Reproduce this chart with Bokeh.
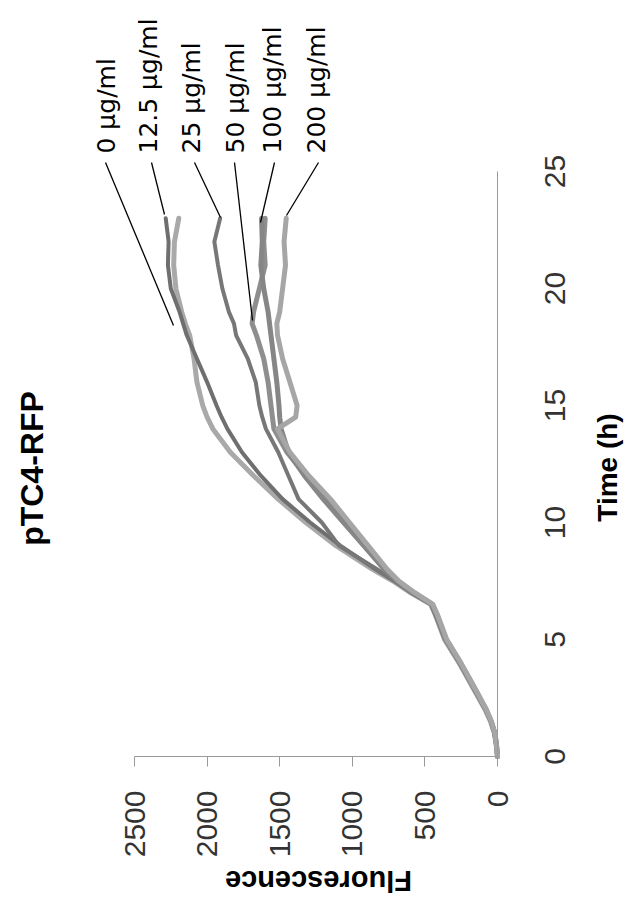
from math import pi
from bokeh.plotting import figure
from bokeh.models import Range1d, FixedTicker, Label, Arrow
from bokeh.core.properties import value
from bokeh.embed import file_html
from bokeh.resources import INLINE

# ---------------- data ----------------
time_h = [0, 0.5, 1, 1.5, 2, 3, 4, 5, 6, 6.5, 7, 7.5, 8, 9, 10, 11, 12, 13, 14,
          14.5, 15, 16, 17, 18, 18.5, 19, 20, 21, 22, 23]

conc_labels = ["0 μg/ml", "12.5 μg/ml", "25 μg/ml", "50 μg/ml", "100 μg/ml", "200 μg/ml"]

fl_0 = [0, 8, 22, 48, 85, 175, 265, 365, 425, 460, 600, 720, 860, 1110, 1320, 1510,
        1680, 1840, 1960, 2000, 2030, 2070, 2090, 2120, 2150, 2175, 2215, 2230, 2225, 2195]
fl_12_5 = [0, 7, 20, 44, 80, 168, 258, 358, 418, 452, 590, 710, 840, 1080, 1290, 1480,
           1630, 1760, 1860, 1900, 1935, 2000, 2070, 2140, 2165, 2190, 2250, 2270, 2265, 2285]
fl_25 = [0, 8, 20, 45, 82, 172, 262, 362, 425, 458, 595, 705, 830, 1090, 1210, 1370,
         1440, 1510, 1595, 1620, 1640, 1665, 1720, 1800, 1815, 1850, 1895, 1925, 1950, 1910]
fl_50 = [0, 8, 19, 44, 80, 168, 258, 355, 415, 450, 580, 690, 770, 900, 1040, 1180,
         1320, 1450, 1540, 1550, 1560, 1580, 1610, 1660, 1690, 1680, 1640, 1600, 1610, 1600]
fl_100 = [0, 7, 19, 43, 78, 165, 255, 352, 412, 448, 575, 690, 780, 920, 1060, 1200,
          1330, 1440, 1490, 1500, 1505, 1520, 1540, 1560, 1570, 1580, 1610, 1630, 1620, 1625]
fl_200 = [0, 7, 18, 42, 76, 163, 252, 350, 410, 445, 570, 680, 760, 890, 1020, 1150,
          1300, 1430, 1515, 1390, 1380, 1430, 1480, 1515, 1520, 1500, 1480, 1460, 1470, 1455]

series = [fl_0, fl_12_5, fl_25, fl_50, fl_100, fl_200]

fluor_ticks = [0, 500, 1000, 1500, 2000, 2500]
time_ticks = [0, 5, 10, 15, 20, 25]

# ---------------- layout (pixels) and styles ----------------
W, H = 625, 897
FX_MAX_PX, FX_ZERO_PX = 134, 497      # pixel x of fluorescence 2500 and 0
T_ZERO_PX, T_MAX_PX = 756, 171        # pixel y of time 0 and 25
F_MAX, T_MAX = 2500, 25

fx_scale = (FX_ZERO_PX - FX_MAX_PX) / F_MAX     # px per fluorescence unit
ty_scale = (T_ZERO_PX - T_MAX_PX) / T_MAX       # px per hour


def fx(px):
    return (FX_ZERO_PX - px) / fx_scale


def ty(py):
    return (T_ZERO_PX - py) / ty_scale


line_colors = ["#a9a9a9", "#6f6f6f", "#777777", "#8e8e8e", "#868686", "#a6a6a6"]
line_widths = [5, 4, 4, 5, 5, 5]

label_px = [106, 148, 191, 235, 272, 316]
label_py = 153
leader_start_px = [105, 151, 194, 234, 274, 318]
leader_start_py = 162
leader_end_px = [173, 164, 220, 252, 260, 286]
leader_end_py = [325, 214, 217, 320, 222, 215]

p = figure(width=W, height=H,
           x_range=Range1d(fx(0), fx(W)), y_range=Range1d(ty(H), ty(0)),
           y_axis_location="right", x_axis_location="below",
           output_backend="svg", toolbar_location=None,
           min_border_left=0, min_border_right=0, min_border_top=0, min_border_bottom=0)
p.title_location = None
p.outline_line_color = None
p.grid.visible = False
p.background_fill_color = "white"
p.border_fill_color = "white"

for ys, c, w in zip(series, line_colors, line_widths):
    p.line(ys, time_h, line_color=c, line_width=w, line_join="round", line_cap="round")

# Fluorescence axis (bottom of the rotated chart)
xa = p.xaxis[0]
xa.fixed_location = 0
xa.bounds = (0, F_MAX)
xa.ticker = FixedTicker(ticks=fluor_ticks)
xa.major_label_orientation = pi / 2
xa.axis_line_color = "#9a9a9a"
xa.major_tick_line_color = "#9a9a9a"
xa.major_tick_out = 10
xa.major_tick_in = 0
xa.minor_tick_line_color = None
xa.major_label_standoff = 24
xa.major_label_text_font = "Liberation Sans"
xa.major_label_text_font_size = "30px"
xa.major_label_text_color = "#333333"

# Time axis (right side of the rotated chart); its labels are drawn centred below
ya = p.yaxis[0]
ya.fixed_location = 0
ya.bounds = (0, T_MAX)
ya.ticker = FixedTicker(ticks=time_ticks)
ya.axis_line_color = "#9a9a9a"
ya.major_tick_line_color = None
ya.minor_tick_line_color = None
ya.major_label_text_color = None
ya.major_label_text_font_size = "1px"

p.text(x=[fx(554)] * len(time_ticks), y=time_ticks, text=[str(t) for t in time_ticks],
       angle=pi / 2, text_align="center", text_baseline="middle",
       text_font=value("Liberation Sans"), text_font_size="30px", text_color="#333333")

# Title and axis titles (rotated like the reference)
p.add_layout(Label(x=fx(31), y=ty(468), text="pTC4-RFP", angle=pi / 2,
                   text_align="center", text_baseline="middle",
                   text_font="Liberation Sans", text_font_style="bold",
                   text_font_size="32px", text_color="black"))
p.add_layout(Label(x=fx(607), y=ty(467), text="Time (h)", angle=pi / 2,
                   text_align="center", text_baseline="middle",
                   text_font="Liberation Sans", text_font_style="bold",
                   text_font_size="28px", text_color="black"))
p.add_layout(Label(x=fx(318), y=ty(880), text="Fluorescence", angle=pi,
                   text_align="center", text_baseline="middle",
                   text_font="Liberation Sans", text_font_style="bold",
                   text_font_size="29px", text_color="black"))

# concentration labels with leader lines
for lab, lx, sx, ex, ey in zip(conc_labels, label_px, leader_start_px, leader_end_px, leader_end_py):
    p.add_layout(Label(x=fx(lx), y=ty(label_py), text=lab, angle=pi / 2,
                       text_align="left", text_baseline="middle",
                       text_font="DejaVu Sans", text_font_size="25px", text_color="black"))
    p.add_layout(Arrow(end=None, x_start=fx(sx), y_start=ty(leader_start_py),
                       x_end=fx(ex), y_end=ty(ey),
                       line_color="black", line_width=1.3))

open("out.html", "w").write(file_html(p, INLINE))
